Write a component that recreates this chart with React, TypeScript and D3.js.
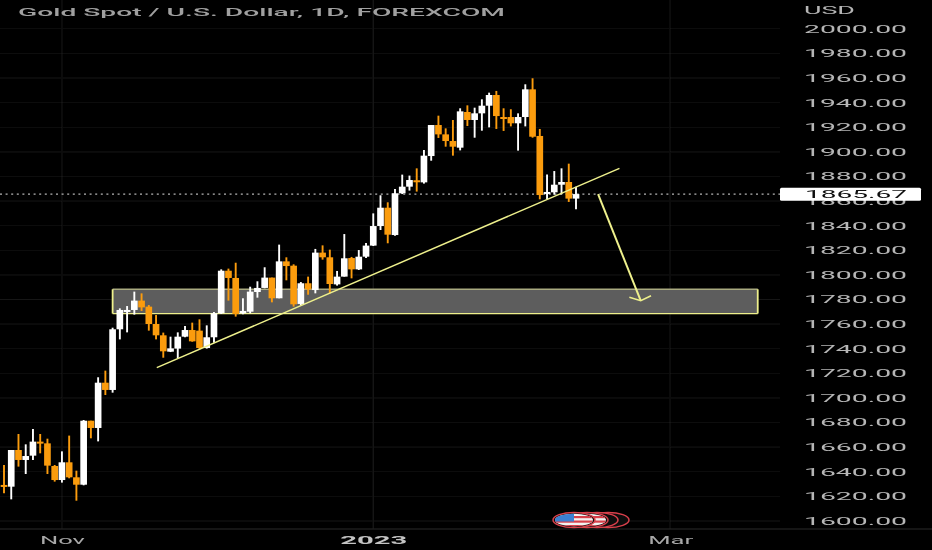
import { useEffect, useRef } from 'react'
import * as d3 from 'd3'

const WIDTH = 932
const HEIGHT = 550

// Daily candles, bar 0 is the leftmost one
const opens = [
  1629.3, 1627.9, 1657.7, 1649.6, 1653.1, 1664.5, 1663.1, 1644.7, 1633.3, 1647.7,
  1635.5, 1629.5, 1681.5, 1675.6, 1712.4, 1706.5, 1755.8, 1770.1, 1771.5, 1779.1,
  1774.2, 1760.1, 1750.9, 1737.6, 1740.1, 1749.8, 1755.2, 1754.7, 1740.6, 1749.3,
  1768.8, 1803.4, 1797.5, 1768.8, 1770.1, 1786.1, 1789.4, 1797.8, 1781.0, 1811.0,
  1807.5, 1776.4, 1793.2, 1787.7, 1818.1, 1814.3, 1792.3, 1798.6, 1813.7, 1804.5,
  1814.8, 1823.8, 1839.7, 1854.6, 1832.4, 1866.3, 1871.7, 1876.9, 1875.2, 1896.6,
  1921.8, 1914.2, 1908.8, 1903.4, 1932.4, 1925.9, 1931.3, 1937.5, 1946.2, 1928.3,
  1928.3, 1923.2, 1928.3, 1950.8, 1912.9, 1865.8, 1867.1, 1873.3, 1875.5, 1862.0,
]
const highs = [
  1645.5, 1657.7, 1670.7, 1662.3, 1674.8, 1670.7, 1666.9, 1645.5, 1656.6, 1669.4,
  1640.9, 1682.1, 1681.5, 1716.8, 1722.2, 1757.1, 1772.8, 1774.7, 1786.4, 1785.0,
  1775.5, 1767.4, 1753.1, 1749.8, 1753.3, 1758.5, 1761.2, 1763.9, 1759.0, 1769.9,
  1804.5, 1805.1, 1809.9, 1781.0, 1790.4, 1794.8, 1806.2, 1797.8, 1824.6, 1814.3,
  1808.6, 1794.2, 1798.6, 1821.1, 1824.0, 1820.5, 1803.2, 1833.2, 1814.6, 1820.2,
  1825.9, 1850.0, 1864.7, 1859.0, 1869.8, 1881.5, 1880.7, 1886.6, 1901.5, 1921.8,
  1929.4, 1919.1, 1925.9, 1935.4, 1937.8, 1935.9, 1942.7, 1948.1, 1949.5, 1935.4,
  1934.6, 1931.3, 1954.9, 1959.8, 1918.6, 1881.5, 1884.4, 1886.6, 1890.4, 1871.7,
]
const lows = [
  1622.5, 1617.6, 1644.2, 1638.2, 1649.6, 1655.0, 1638.2, 1632.0, 1631.2, 1634.7,
  1616.5, 1629.0, 1667.2, 1664.7, 1702.4, 1704.3, 1747.6, 1753.3, 1767.7, 1770.7,
  1754.7, 1747.6, 1732.7, 1737.3, 1732.2, 1749.3, 1745.7, 1739.5, 1740.1, 1744.9,
  1768.2, 1779.1, 1766.1, 1768.0, 1768.8, 1781.5, 1789.1, 1777.7, 1781.0, 1795.6,
  1774.2, 1775.5, 1783.9, 1785.0, 1812.4, 1785.0, 1791.3, 1798.6, 1797.2, 1804.0,
  1813.7, 1823.5, 1836.5, 1825.7, 1831.9, 1865.7, 1868.5, 1867.7, 1874.2, 1892.8,
  1911.3, 1904.2, 1896.9, 1901.2, 1921.0, 1911.5, 1917.2, 1919.9, 1918.6, 1917.0,
  1920.7, 1901.0, 1920.7, 1911.5, 1861.4, 1861.4, 1865.2, 1865.5, 1859.3, 1853.3,
]
const closes = [
  1627.9, 1657.7, 1649.6, 1652.8, 1664.5, 1663.1, 1645.0, 1633.3, 1647.7, 1635.5,
  1629.5, 1681.5, 1675.6, 1712.4, 1706.5, 1755.8, 1771.5, 1771.5, 1779.1, 1773.6,
  1760.1, 1750.9, 1737.9, 1740.3, 1749.8, 1755.2, 1746.0, 1740.6, 1749.3, 1768.8,
  1803.4, 1797.5, 1768.2, 1770.7, 1786.4, 1789.4, 1797.8, 1781.0, 1811.0, 1807.2,
  1776.1, 1793.2, 1788.3, 1818.1, 1814.3, 1792.6, 1798.6, 1813.5, 1804.5, 1814.8,
  1823.8, 1839.7, 1854.6, 1832.7, 1866.3, 1871.7, 1877.1, 1876.0, 1896.9, 1921.8,
  1914.2, 1908.8, 1904.2, 1932.9, 1925.9, 1931.3, 1937.5, 1946.2, 1929.1, 1927.5,
  1923.2, 1928.3, 1950.8, 1912.3, 1864.9, 1867.4, 1873.3, 1875.5, 1862.0, 1865.67,
]

const priceTicks = d3.range(1600, 2001, 20)
const lastPrice = 1865.67

// Bar positions of the month labels
const monthTicks = [8, 51, 92]
const monthLabels = ['Nov', '2023', 'Mar']

// Drawings on the chart, in bar / price units
const zoneBars = [15, 104.1]
const zonePrices = [1788.3, 1768.6]
const trendBars = [21.1, 85]
const trendPrices = [1724.6, 1886.6]
const arrowBars = [82.05, 87.94]
const arrowPrices = [1865.67, 1779]
const arrowWingBars = [86.37, 89.36]
const arrowWingPrices = [1781.8, 1783.1]

const ORANGE = '#fb9c0f'
const WHITE = '#ffffff'
const YELLOW = '#eef08c'
const GRID = '#121212'
const RED = '#d8404c'
const FONT = 'Roboto, sans-serif'

export default function App() {
  const svgRef = useRef<SVGSVGElement>(null)

  useEffect(() => {
    if (!svgRef.current) return
    const svg = d3.select(svgRef.current)
    svg.selectAll('*').remove()

    const x = d3.scaleLinear().domain([0, 79]).range([4, 576])
    const y = d3.scaleLinear().domain([1600, 2000]).range([521, 28.8])
    const step = x(1) - x(0)
    const bars = d3.range(opens.length)

    const defs = svg.append('defs')
    defs.append('filter').attr('id', 'soft')
      .attr('x', '-5%').attr('y', '-5%').attr('width', '110%').attr('height', '110%')
      .append('feGaussianBlur').attr('stdDeviation', 0.45)
    defs.append('clipPath').attr('id', 'flagClip')
      .append('ellipse').attr('cx', 574).attr('cy', 520).attr('rx', 19).attr('ry', 6.2)
    defs.append('clipPath').attr('id', 'ringClip')
      .append('ellipse').attr('cx', 587).attr('cy', 520).attr('rx', 19).attr('ry', 6.2)

    svg.append('rect').attr('width', WIDTH).attr('height', HEIGHT).attr('fill', '#000')

    const root = svg.append('g').attr('filter', 'url(#soft)')

    // Grid
    root.append('g').selectAll('line').data(priceTicks).enter().append('line')
      .attr('x1', 0).attr('x2', 780)
      .attr('y1', d => y(d)).attr('y2', d => y(d))
      .attr('stroke', GRID)
    root.append('g').selectAll('line').data(monthTicks).enter().append('line')
      .attr('x1', d => x(d)).attr('x2', d => x(d))
      .attr('y1', 0).attr('y2', 529)
      .attr('stroke', '#161616').attr('stroke-width', 1.2)

    // Bottom axis line
    root.append('line')
      .attr('x1', 0).attr('x2', WIDTH).attr('y1', 529).attr('y2', 529)
      .attr('stroke', '#2b2b2b')

    // Support zone, behind the candles
    root.append('rect')
      .attr('x', x(zoneBars[0]))
      .attr('y', y(zonePrices[0]))
      .attr('width', x(zoneBars[1]) - x(zoneBars[0]))
      .attr('height', y(zonePrices[1]) - y(zonePrices[0]))
      .attr('fill', '#5d5d5d')
    root.append('line')
      .attr('x1', x(zoneBars[0])).attr('x2', x(zoneBars[1]))
      .attr('y1', y(zonePrices[0])).attr('y2', y(zonePrices[0]))
      .attr('stroke', '#a9aa80').attr('stroke-width', 1.4)
    root.append('line')
      .attr('x1', x(zoneBars[0])).attr('x2', x(zoneBars[1]))
      .attr('y1', y(zonePrices[1])).attr('y2', y(zonePrices[1]))
      .attr('stroke', YELLOW).attr('stroke-width', 1.2)
    root.append('g').selectAll('line').data(zoneBars).enter().append('line')
      .attr('x1', d => x(d)).attr('x2', d => x(d))
      .attr('y1', y(zonePrices[0])).attr('y2', y(zonePrices[1]))
      .attr('stroke', YELLOW).attr('stroke-width', 1.8)

    // Last price dotted line
    root.append('line')
      .attr('x1', 0).attr('x2', 780)
      .attr('y1', y(lastPrice)).attr('y2', y(lastPrice))
      .attr('stroke', '#b4b4b4').attr('stroke-width', 1.2)
      .attr('stroke-dasharray', '2,3.6')

    // Candles
    const candle = root.append('g').selectAll('g').data(bars).enter().append('g')
    const colour = (i: number) => (closes[i] >= opens[i] ? WHITE : ORANGE)
    candle.append('line')
      .attr('x1', i => x(i)).attr('x2', i => x(i))
      .attr('y1', i => y(highs[i])).attr('y2', i => y(lows[i]))
      .attr('stroke', colour).attr('stroke-width', 1.9)
    candle.append('rect')
      .attr('x', i => x(i) - step * 0.46)
      .attr('width', step * 0.92)
      .attr('y', i => y(Math.max(opens[i], closes[i])))
      .attr('height', i => Math.max(2, Math.abs(y(opens[i]) - y(closes[i]))))
      .attr('fill', colour)

    // Trend line and arrow
    const line = d3.line<[number, number]>().x(d => x(d[0])).y(d => y(d[1]))
    root.append('path')
      .attr('d', line([[trendBars[0], trendPrices[0]], [trendBars[1], trendPrices[1]]]))
      .attr('fill', 'none').attr('stroke', YELLOW).attr('stroke-width', 1.5)
    root.append('path')
      .attr('d', line([[arrowBars[0], arrowPrices[0]], [arrowBars[1], arrowPrices[1]]]))
      .attr('fill', 'none').attr('stroke', YELLOW).attr('stroke-width', 2)
    root.append('path')
      .attr('d', line([
        [arrowWingBars[0], arrowWingPrices[0]],
        [arrowBars[1], arrowPrices[1]],
        [arrowWingBars[1], arrowWingPrices[1]],
      ]))
      .attr('fill', 'none').attr('stroke', YELLOW).attr('stroke-width', 1.6)

    // Flag logo, three rings stacked behind the front one
    const logo = root.append('g')
    ;[608, 597, 587].forEach(cx => {
      logo.append('ellipse')
        .attr('cx', cx).attr('cy', 520).attr('rx', 21).attr('ry', 7.6)
        .attr('fill', '#0a0a0a').attr('stroke', RED).attr('stroke-width', 1.5)
    })
    const ring = logo.append('g').attr('clip-path', 'url(#ringClip)')
    ring.append('rect').attr('x', 568).attr('y', 513).attr('width', 38).attr('height', 14).attr('fill', '#f2f2f2')
    ;[516, 520.5, 525].forEach(stripe => {
      ring.append('rect').attr('x', 568).attr('y', stripe).attr('width', 38).attr('height', 2.2).attr('fill', RED)
    })
    logo.append('ellipse')
      .attr('cx', 574).attr('cy', 520).attr('rx', 21).attr('ry', 7.6)
      .attr('fill', '#0a0a0a').attr('stroke', RED).attr('stroke-width', 1.5)
    const flag = logo.append('g').attr('clip-path', 'url(#flagClip)')
    flag.append('rect').attr('x', 555).attr('y', 513).attr('width', 38).attr('height', 14).attr('fill', '#f2f2f2')
    ;[516, 520.5, 525].forEach(stripe => {
      flag.append('rect').attr('x', 555).attr('y', stripe).attr('width', 38).attr('height', 2.2).attr('fill', RED)
    })
    flag.append('rect').attr('x', 555).attr('y', 513).attr('width', 19).attr('height', 8.5).attr('fill', '#3a80d2')

    // Price axis
    const yAxis = d3.axisRight(y)
      .tickValues(priceTicks)
      .tickSize(0)
      .tickFormat(d => (d as number).toFixed(2))
    const yAxisG = root.append('g').call(yAxis)
    yAxisG.select('.domain').remove()
    yAxisG.selectAll('text')
      .attr('x', 804)
      .attr('fill', '#b6b6b6')
      .attr('font-family', FONT)
      .attr('font-size', 10.5)
      .attr('textLength', 103)
      .attr('lengthAdjust', 'spacingAndGlyphs')

    root.append('text')
      .attr('x', 804).attr('y', 13.5)
      .attr('fill', '#b6b6b6')
      .attr('font-family', FONT).attr('font-size', 10.5)
      .attr('textLength', 51).attr('lengthAdjust', 'spacingAndGlyphs')
      .text('USD')

    // Last price tag
    root.append('rect')
      .attr('x', 780).attr('y', y(lastPrice) - 6.4)
      .attr('width', 141).attr('height', 13)
      .attr('rx', 1.5)
      .attr('fill', '#ffffff')
    root.append('text')
      .attr('x', 805).attr('y', y(lastPrice) + 3.7)
      .attr('fill', '#111')
      .attr('font-family', FONT).attr('font-size', 10.5)
      .attr('textLength', 102).attr('lengthAdjust', 'spacingAndGlyphs')
      .text(lastPrice.toFixed(2))

    // Time axis
    const monthWidths = [45, 67, 45]
    const xAxis = d3.axisBottom(x)
      .tickValues(monthTicks)
      .tickSize(0)
      .tickFormat((_, i) => monthLabels[i])
    const xAxisG = root.append('g').attr('transform', 'translate(0,530)').call(xAxis)
    xAxisG.select('.domain').remove()
    xAxisG.selectAll<SVGTextElement, number>('text')
      .attr('y', 7)
      .attr('fill', (_, i) => (i === 1 ? '#c4c4c4' : '#a8a8a8'))
      .attr('font-family', FONT)
      .attr('font-size', 10)
      .attr('font-weight', (_, i) => (i === 1 ? 700 : 400))
      .attr('textLength', (_, i) => monthWidths[i])
      .attr('lengthAdjust', 'spacingAndGlyphs')

    // Title
    root.append('text')
      .attr('x', 18).attr('y', 15.7)
      .attr('fill', '#a0a0a0')
      .attr('font-family', FONT)
      .attr('font-size', 10.5)
      .attr('font-weight', 500)
      .attr('textLength', 487)
      .attr('lengthAdjust', 'spacingAndGlyphs')
      .text('Gold Spot / U.S. Dollar, 1D, FOREXCOM')
  }, [])

  return (
    <svg
      ref={svgRef}
      width={WIDTH}
      height={HEIGHT}
      style={{ position: 'absolute', left: 0, top: 0, display: 'block' }}
    />
  )
}
